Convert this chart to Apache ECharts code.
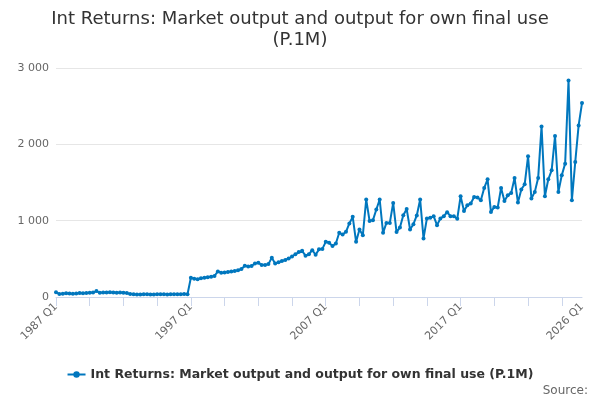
<!DOCTYPE html>
<html>
<head>
<meta charset="utf-8">
<script src="https://cdn.jsdelivr.net/npm/echarts@6/dist/echarts.min.js"></script>
<style>
html,body{margin:0;padding:0;background:#fff;}
#chart{width:600px;height:400px;}
</style>
</head>
<body>
<div id="chart"></div>
<script>
var titleText = "Int Returns: Market output and output for own final use\n(P.1M)";
var seriesName = "Int Returns: Market output and output for own final use (P.1M)";
var startYear = 1987;
var endYear = 2026;
var yTicks = [0, 1000, 2000, 3000];

// quarterly values, 1987 Q1 .. 2026 Q1
var values1987to1996 = [
  61, 40, 42, 48, 45, 43, 47, 52, 50, 53, 55, 58,
  78, 55, 60, 58, 62, 60, 57, 58, 56,
  52, 38, 35, 34, 33, 35, 36, 34, 33, 35, 36, 35, 34, 36, 37, 35, 36, 38, 37
];
var values1997to2006 = [
  252, 238, 232, 245, 252, 258, 265, 275,
  335, 318, 322, 328, 335, 340, 350, 366,
  410, 400, 405, 440, 450, 418, 420, 431,
  514, 440, 455, 470, 485, 506, 530, 560,
  588, 605, 540, 560, 614, 553, 624, 630
];
var values2007to2016 = [
  723, 710, 667, 700, 841, 819, 854, 963,
  1050, 723, 885, 810, 1277, 997, 1007, 1146,
  1277, 841, 971, 971, 1233, 850, 911, 1072,
  1154, 885, 954, 1068, 1277, 767, 1029, 1037,
  1059, 941, 1029, 1059, 1110, 1059, 1059, 1024
];
var values2017to2026 = [
  1320, 1128, 1203, 1224, 1311, 1303, 1268, 1429,
  1542, 1115, 1180, 1172, 1429, 1259, 1333, 1364,
  1560, 1238, 1408, 1477, 1843, 1290, 1377, 1560,
  2235, 1320, 1542, 1660, 2109, 1377, 1595, 1747,
  2837, 1268, 1769, 2248, 2540
];
var values = values1987to1996.concat(values1997to2006, values2007to2016, values2017to2026);

var categories = [];
for (var y = startYear; y <= endYear; y++) {
  for (var q = 1; q <= 4; q++) {
    if (y === endYear && q > 1) break;
    categories.push(y + " Q" + q);
  }
}
var lastIdx = categories.length - 1;

var chart = echarts.init(document.getElementById('chart'), null, {renderer: 'canvas'});
chart.setOption({
  animation: false,
  textStyle: {fontFamily: 'DejaVu Sans'},
  title: {
    text: titleText,
    left: 'center',
    top: 4,
    textStyle: {fontFamily: 'DejaVu Sans', fontSize: 18, fontWeight: 'normal', color: '#333333', lineHeight: 21}
  },
  legend: {
    bottom: 14,
    left: 'center',
    itemWidth: 18,
    itemHeight: 8,
    textStyle: {fontFamily: 'DejaVu Sans', fontSize: 12.5, fontWeight: 'bold', color: '#333333'},
    data: [seriesName]
  },
  graphic: [{
    type: 'text',
    right: 12,
    bottom: 3,
    style: {text: 'Source:', fontFamily: 'DejaVu Sans', fontSize: 12, fill: '#666666'}
  }],
  grid: {left: 56, right: 18, top: 68, bottom: 103, containLabel: false},
  xAxis: {
    type: 'category',
    data: categories,
    boundaryGap: false,
    axisLine: {lineStyle: {color: '#ccd6eb', width: 1}},
    axisTick: {
      length: 9,
      lineStyle: {color: '#ccd6eb'},
      interval: function (idx) { return idx % 10 === 0; }
    },
    axisLabel: {
      rotate: 45,
      fontSize: 11,
      color: '#666666',
      margin: 8,
      interval: function (idx) { return idx % 40 === 0 || idx === lastIdx; }
    },
    splitLine: {show: false}
  },
  yAxis: {
    type: 'value',
    min: yTicks[0],
    max: yTicks[yTicks.length - 1],
    interval: 1000,
    axisLine: {show: false},
    axisTick: {show: false},
    axisLabel: {
      fontSize: 11,
      color: '#666666',
      margin: 7,
      formatter: function (v) { return String(v).replace(/\B(?=(\d{3})+(?!\d))/g, ' '); }
    },
    splitLine: {lineStyle: {color: '#e6e6e6', width: 1}}
  },
  series: [{
    name: seriesName,
    type: 'line',
    data: values,
    symbol: 'circle',
    symbolSize: 4,
    showSymbol: true,
    showAllSymbol: true,
    itemStyle: {color: '#0077be'},
    lineStyle: {color: '#0077be', width: 2}
  }]
});
</script>
</body>
</html>
